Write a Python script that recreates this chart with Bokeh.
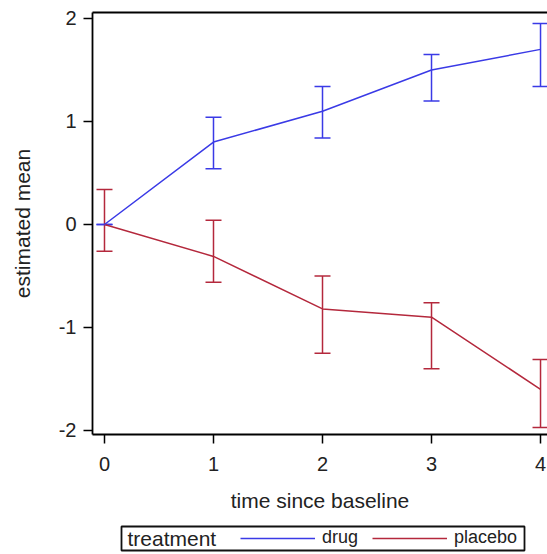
from bokeh.plotting import figure
from bokeh.layouts import column
from bokeh.models import (ColumnDataSource, Whisker, TeeHead, Legend, LegendItem,
                          LinearAxis, Range1d, FixedTicker, Label, BoxAnnotation)
from bokeh.embed import file_html
from bokeh.resources import INLINE

time = [0, 1, 2, 3, 4]
drug_mean = [0.0, 0.80, 1.10, 1.50, 1.70]
drug_lower = [0.0, 0.54, 0.84, 1.20, 1.34]
drug_upper = [0.0, 1.04, 1.34, 1.65, 1.95]
placebo_mean = [0.0, -0.31, -0.82, -0.90, -1.60]
placebo_lower = [-0.26, -0.56, -1.25, -1.40, -1.97]
placebo_upper = [0.34, 0.04, -0.50, -0.76, -1.31]
x_ticks = [0, 1, 2, 3, 4]
y_ticks = [-2, -1, 0, 1, 2]
series_names = ["drug", "placebo"]
legend_title = "treatment"

DRUG = "#3a3ae6"
PLAC = "#b4283c"
FONT = "Liberation Sans"
TXT = "#222222"

p = figure(width=547, height=518, output_backend="svg", toolbar_location=None,
           x_range=Range1d(-0.11, 4.064), y_range=Range1d(-2.039, 2.058),
           min_border_left=92, min_border_top=12, min_border_right=0, min_border_bottom=84)
p.outline_line_color = None
p.xgrid.visible = False
p.ygrid.visible = False

src_d = ColumnDataSource(dict(x=time, y=drug_mean, lo=drug_lower, hi=drug_upper))
src_p = ColumnDataSource(dict(x=time, y=placebo_mean, lo=placebo_lower, hi=placebo_upper))

wp = Whisker(source=src_p, base="x", lower="lo", upper="hi", line_color=PLAC, line_width=1.5,
             upper_head=TeeHead(size=16, line_color=PLAC, line_width=1.5),
             lower_head=TeeHead(size=16, line_color=PLAC, line_width=1.5))
p.add_layout(wp)
rp = p.line("x", "y", source=src_p, line_color=PLAC, line_width=1.5)
wd = Whisker(source=src_d, base="x", lower="lo", upper="hi", line_color=DRUG, line_width=1.5,
             upper_head=TeeHead(size=16, line_color=DRUG, line_width=1.5),
             lower_head=TeeHead(size=16, line_color=DRUG, line_width=1.5))
p.add_layout(wd)
rd = p.line("x", "y", source=src_d, line_color=DRUG, line_width=1.5)

for ax in (p.xaxis[0], p.yaxis[0]):
    ax.axis_line_color = "black"
    ax.axis_line_width = 1.8
    ax.major_tick_line_color = "black"
    ax.major_tick_line_width = 1.5
    ax.major_tick_out = 9
    ax.major_tick_in = 0
    ax.minor_tick_line_color = None
    ax.major_label_text_font = FONT
    ax.major_label_text_font_size = "20px"
    ax.major_label_text_color = TXT
    ax.axis_label_text_font = FONT
    ax.axis_label_text_font_size = "21px"
    ax.axis_label_text_font_style = "normal"
    ax.axis_label_text_color = TXT

p.xaxis[0].ticker = FixedTicker(ticks=x_ticks)
p.yaxis[0].ticker = FixedTicker(ticks=y_ticks)
p.yaxis[0].major_label_overrides = {t: str(t) for t in y_ticks}
p.xaxis[0].major_label_overrides = {t: str(t) for t in x_ticks}
p.xaxis[0].axis_label = "time since baseline"
p.yaxis[0].axis_label = "estimated mean"
p.xaxis[0].major_label_standoff = 13
p.xaxis[0].axis_label_standoff = 15
p.yaxis[0].major_label_standoff = 7
p.yaxis[0].axis_label_standoff = 22

top = LinearAxis(axis_line_color="black", axis_line_width=1.8, major_tick_line_color=None,
                 minor_tick_line_color=None, major_label_text_font_size="0px")
top.major_label_text_color = None
p.add_layout(top, "above")

# legend strip (its frame is aligned with the main frame: x in page pixels 92..547)
lg = figure(width=547, height=36, output_backend="svg", toolbar_location=None,
            x_range=Range1d(92, 547), y_range=Range1d(0, 36),
            min_border_left=92, min_border_right=0, min_border_top=0, min_border_bottom=0)
lg.axis.visible = False
lg.xgrid.visible = False
lg.ygrid.visible = False
lg.outline_line_color = None
ld = lg.line(x=time, y=drug_mean, line_color=DRUG, line_width=1.5, visible=False)
lp = lg.line(x=time, y=placebo_mean, line_color=PLAC, line_width=1.5, visible=False)

legend = Legend(items=[LegendItem(label=series_names[0], renderers=[ld]),
                       LegendItem(label=series_names[1], renderers=[lp])],
                orientation="horizontal", location=(148, 6))
legend.label_text_font = FONT
legend.label_text_font_size = "18px"
legend.label_text_color = TXT
legend.glyph_width = 75
legend.glyph_height = 20
legend.label_height = 20
legend.label_standoff = 7
legend.spacing = 14
legend.padding = 0
legend.margin = 0
legend.border_line_color = None
legend.background_fill_alpha = 0
lg.add_layout(legend, "center")

box = BoxAnnotation(left=121, right=524, top=28, bottom=4,
                    fill_color=None, fill_alpha=0, line_color="#111111",
                    line_alpha=1.0, line_width=1.8)
lg.add_layout(box)
title = Label(x=127, y=16, text=legend_title,
              text_font=FONT, text_font_size="21px", text_color=TXT,
              text_baseline="middle", text_align="left")
lg.add_layout(title)

layout = column(p, lg, spacing=0)
open("out.html", "w").write(file_html(layout, INLINE))
